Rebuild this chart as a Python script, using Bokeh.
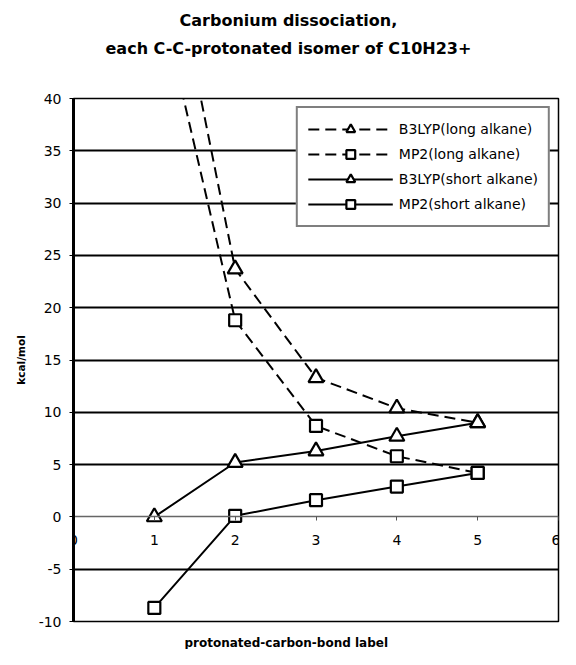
import math
from bokeh.plotting import figure
from bokeh.models import Range1d, FixedTicker, Title
from bokeh.embed import file_html
from bokeh.resources import INLINE

# ---- data ----
bond_label = [1, 2, 3, 4, 5]
b3lyp_long = [62.1, 23.7, 13.3, 10.4, 9.0]
mp2_long = [52.0, 18.8, 8.7, 5.8, 4.2]
b3lyp_short = [0.0, 5.2, 6.3, 7.7, 9.0]
mp2_short = [-8.7, 0.1, 1.6, 2.9, 4.2]

x_ticks = [0, 1, 2, 3, 4, 5, 6]
y_ticks = [-10, -5, 0, 5, 10, 15, 20, 25, 30, 35, 40]
y_tick_text = {-10: "-10", -5: "-5"}
grid_ticks = [-10, -5, 5, 10, 15, 20, 25, 30, 35, 40]

title_lines = ["Carbonium dissociation,", "each C-C-protonated isomer of C10H23+"]
x_title = "protonated-carbon-bond label"
y_title = "kcal/mol"

FONT = "DejaVu Sans"
BLANK = "\u00a0"

p = figure(width=560, height=649, x_range=Range1d(0, 6), y_range=Range1d(-10, 40),
           output_backend="svg", toolbar_location=None,
           min_border_left=73, min_border_right=2, min_border_top=98, min_border_bottom=28)
p.background_fill_color = "white"
p.border_fill_color = "white"
p.outline_line_color = "black"
p.outline_line_width = 1.5

# x axis crossing at y = 0
xa = p.xaxis[0]
xa.fixed_location = 0
xa.ticker = FixedTicker(ticks=x_ticks)
xa.axis_line_color = "#666666"
xa.axis_line_width = 1.5
xa.major_tick_line_color = "#555555"
xa.major_tick_out = 4
xa.major_tick_in = 0
xa.minor_tick_line_color = None
xa.major_label_standoff = 14
xa.major_label_text_font = FONT
xa.major_label_text_font_size = "14px"
xa.major_label_text_color = "black"

ya = p.yaxis[0]
ya.ticker = FixedTicker(ticks=y_ticks)
ya.major_label_overrides = y_tick_text
ya.axis_line_color = "black"
ya.axis_line_width = 3
ya.major_tick_line_color = "black"
ya.major_tick_out = 4
ya.major_tick_in = 0
ya.minor_tick_line_color = None
ya.major_label_standoff = 8
ya.major_label_text_font = FONT
ya.major_label_text_font_size = "14px"
ya.major_label_text_color = "black"
ya.axis_label = y_title
ya.axis_label_text_font = FONT
ya.axis_label_text_font_style = "bold"
ya.axis_label_text_font_size = "10.5px"
ya.axis_label_text_color = "black"
ya.axis_label_standoff = 9

p.xgrid.visible = False
p.ygrid.ticker = FixedTicker(ticks=grid_ticks)
p.ygrid.grid_line_color = "black"
p.ygrid.grid_line_width = 2
p.ygrid.grid_line_alpha = 1.0

series = [
    ("B3LYP(long alkane)", b3lyp_long, "11 6", "triangle", 15),
    ("MP2(long alkane)", mp2_long, "11 6", "square", 12),
    ("B3LYP(short alkane)", b3lyp_short, "solid", "triangle", 15),
    ("MP2(short alkane)", mp2_short, "solid", "square", 12),
]
for name, vals, dash, marker, size in series:
    p.line(bond_label, vals, line_color="black", line_width=2, line_dash=dash, legend_label=name)
    p.scatter(bond_label, vals, marker=marker, size=size, fill_color="white",
              line_color="black", line_width=2.2, legend_label=name)

lg = p.legend[0]
lg.location = "top_right"
lg.margin = 8
lg.padding = 10
lg.spacing = 3
lg.glyph_height = 22
lg.glyph_width = 85
lg.label_height = 22
lg.label_standoff = 6
lg.label_text_font = FONT
lg.label_text_font_size = "14px"
lg.label_text_color = "black"
lg.border_line_color = "black"
lg.border_line_width = 2
lg.background_fill_color = "white"
lg.background_fill_alpha = 1.0

# title block above: spacer nearest the frame, then line 2, then line 1
p.add_layout(Title(text=BLANK, align="left", vertical_align="top", standoff=14,
                   text_font=FONT, text_font_size="16px"), "above")
p.add_layout(Title(text=title_lines[1], align="left", offset=32, vertical_align="top",
                   standoff=7, text_font=FONT, text_font_style="bold",
                   text_font_size="16px", text_color="black"), "above")
p.add_layout(Title(text=title_lines[0], align="left", offset=106, vertical_align="top",
                   standoff=7, text_font=FONT, text_font_style="bold",
                   text_font_size="16px", text_color="black"), "above")

# x-axis title below: small spacer nearest the frame, then the title
p.add_layout(Title(text=BLANK, align="left", standoff=3,
                   text_font=FONT, text_font_size="6px"), "below")
p.add_layout(Title(text=x_title, align="left", offset=111, standoff=0,
                   text_font=FONT, text_font_style="bold", text_font_size="12px",
                   text_color="black"), "below")

open("out.html", "w").write(file_html(p, INLINE))
